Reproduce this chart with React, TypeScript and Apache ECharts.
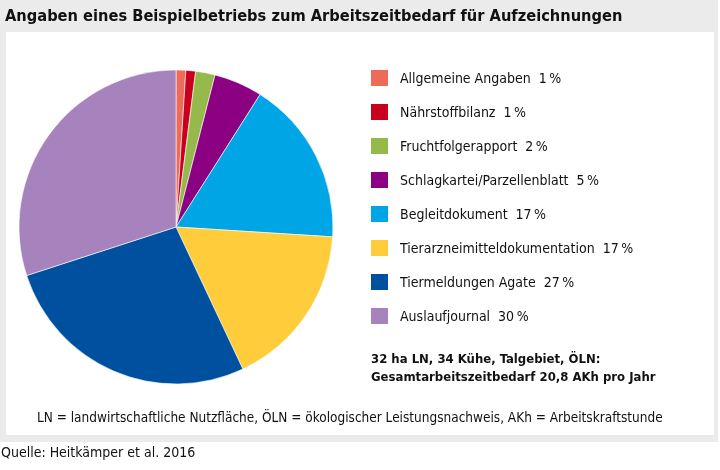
import React, { useEffect, useRef } from "react";
import * as echarts from "echarts";

const categories = [
  "Allgemeine Angaben",
  "Nährstoffbilanz",
  "Fruchtfolgerapport",
  "Schlagkartei/Parzellenblatt",
  "Begleitdokument",
  "Tierarzneimitteldokumentation",
  "Tiermeldungen Agate",
  "Auslaufjournal",
];
const shares = [1, 1, 2, 5, 17, 17, 27, 30];
const colors = ["#ee6a59", "#c8001e", "#96b94b", "#8c0082", "#00a5e6", "#ffcd3c", "#0050a0", "#a783bd"];

const titleText = "Angaben eines Beispielbetriebs zum Arbeitszeitbedarf für Aufzeichnungen";
const noteLine1 = "32 ha LN, 34 Kühe, Talgebiet, ÖLN:";
const noteLine2 = "Gesamtarbeitszeitbedarf 20,8 AKh pro Jahr";
const footnote = "LN = landwirtschaftliche Nutzfläche, ÖLN = ökologischer Leistungsnachweis, AKh = Arbeitskraftstunde";
const source = "Quelle: Heitkämper et al. 2016";

const FONT = "'Liberation Sans Narrow', 'DejaVu Sans Condensed', 'Open Sans', sans-serif";

export default function App() {
  const ref = useRef<HTMLDivElement>(null);
  useEffect(() => {
    document.body.style.margin = "0";
    const chart = echarts.init(ref.current!, null, { renderer: "svg" });
    const valueMap: Record<string, number> = {};
    categories.forEach((c, i) => (valueMap[c] = shares[i]));
    chart.setOption({
      animation: false,
      color: colors,
      textStyle: { fontFamily: FONT },
      graphic: [
        { type: "rect", z: -10, shape: { x: 0, y: 0, width: 718, height: 442 }, style: { fill: "#ebebec" } },
        { type: "rect", z: -9, shape: { x: 6, y: 32, width: 708, height: 403 }, style: { fill: "#ffffff" } },
        {
          type: "text", left: 5, top: 7,
          style: { text: titleText, font: `bold 16.3px ${FONT}`, fill: "#111" },
        },
        {
          type: "text", left: 371, top: 349,
          style: { text: noteLine1 + "\n" + noteLine2, font: `bold 13px ${FONT}`, lineHeight: 18, fill: "#111" },
        },
        {
          type: "text", left: 37, top: 410,
          style: { text: footnote, font: `13.5px ${FONT}`, fill: "#111" },
        },
        {
          type: "text", left: 1, top: 445,
          style: { text: source, font: `14px ${FONT}`, fill: "#111" },
        },
      ],
      legend: {
        orient: "vertical",
        left: 371,
        top: 70,
        padding: 0,
        itemWidth: 17,
        itemHeight: 16,
        itemGap: 18,
        itemStyle: { borderWidth: 0 },
        icon: "rect",
        textStyle: { fontSize: 14, color: "#111", fontFamily: FONT, padding: [0, 0, 0, 7], lineHeight: 16 },
        formatter: (name: string) => `${name}  ${valueMap[name]}\u202f%`,
        data: categories,
      },
      series: [
        {
          type: "pie",
          center: [176, 227],
          radius: 157,
          startAngle: 90,
          clockwise: true,
          label: { show: false },
          labelLine: { show: false },
          emphasis: { disabled: true },
          itemStyle: { borderColor: "#ffffff", borderWidth: 0.6 },
          data: categories.map((c, i) => ({ name: c, value: shares[i] })),
        },
      ],
    });
    return () => chart.dispose();
  }, []);
  return <div ref={ref} style={{ position: "fixed", left: 0, top: 0, width: 720, height: 470 }} />;
}
